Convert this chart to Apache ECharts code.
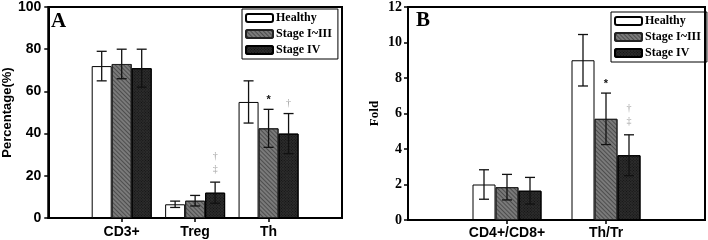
<!DOCTYPE html>
<html><head><meta charset="utf-8">
<script src="https://cdn.jsdelivr.net/npm/echarts@6/dist/echarts.min.js"></script>
<style>html,body{margin:0;padding:0;background:#fff}#c{width:708px;height:240px}</style>
</head><body><div id="c"></div>
<script>
// ---- Data ----
const seriesNames = ['Healthy', 'Stage I~III', 'Stage IV'];
// Panel A
const catsA = ['CD3+', 'Treg', 'Th'];
const healthyA = [72, 6.5, 55];
const healthyA_sd = [7, 1.5, 10];
const stage13A = [73, 8.2, 42.5];
const stage13A_sd = [7, 2.5, 9];
const stage4A = [71, 12, 40];
const stage4A_sd = [9, 5, 9.5];
const annotA = [['', '', ''], ['', '', '*'], ['', '†‡', '†']];
const yTicksA = [0, 20, 40, 60, 80, 100];
// Panel B
const catsB = ['CD4+/CD8+', 'Th/Tr'];
const healthyB = [2.0, 9.0];
const healthyB_sd = [0.83, 1.45];
const stage13B = [1.85, 5.7];
const stage13B_sd = [0.72, 1.45];
const stage4B = [1.65, 3.65];
const stage4B_sd = [0.75, 1.15];
const annotB = [['', ''], ['', '*'], ['', '†‡']];
const yTicksB = [0, 2, 4, 6, 8, 10, 12];

const styles = [
  { color: '#ffffff', borderColor: '#000', borderWidth: 1 },
  { color: '#7a7a7a', borderColor: '#222', borderWidth: 1,
    decal: { symbol: 'rect', symbolSize: 1, dashArrayX: [1, 0], dashArrayY: [1, 2], rotation: Math.PI / 4, color: 'rgba(40,40,40,0.55)' } },
  { color: '#2c2c2c', borderColor: '#000', borderWidth: 1,
    decal: { symbol: 'rect', symbolSize: 1, dashArrayX: [1, 1], dashArrayY: [1, 1], rotation: Math.PI / 4, color: 'rgba(0,0,0,0.6)' } }
];

const chart = echarts.init(document.getElementById('c'));

function padCats(c) { return [''].concat(c).concat(['']); }

function barSeries(name, idx, vals, axisIdx, barW) {
  return {
    name: name, type: 'bar', xAxisIndex: axisIdx, yAxisIndex: axisIdx,
    barWidth: barW, barGap: '0%', itemStyle: styles[idx],
    data: vals.map((v, i) => [i + 1, v]), z: 2
  };
}

function errSeries(idx, vals, sds, ann, axisIdx, barW) {
  const offset = (idx - 1) * barW;
  return {
    type: 'custom', xAxisIndex: axisIdx, yAxisIndex: axisIdx, z: 5, silent: true,
    data: vals.map((v, i) => [i + 1, v, sds[i]]),
    renderItem: function (params, api) {
      const x0 = api.value(0), m = api.value(1), sd = api.value(2);
      const c = api.coord([x0, m]);
      const x = c[0] + offset;
      const yt = api.coord([x0, m + sd])[1];
      const yb = api.coord([x0, m - sd])[1];
      const cw = 5;
      const st = { stroke: '#111', lineWidth: 1.3 };
      const ch = [
        { type: 'line', shape: { x1: x, y1: yt, x2: x, y2: yb }, style: st },
        { type: 'line', shape: { x1: x - cw, y1: yt, x2: x + cw, y2: yt }, style: st },
        { type: 'line', shape: { x1: x - cw, y1: yb, x2: x + cw, y2: yb }, style: st }
      ];
      const a = ann[params.dataIndex];
      if (a === '*') {
        ch.push({ type: 'text', style: { text: '*', x: x, y: yt - 4, align: 'center', verticalAlign: 'bottom', fill: '#111', font: 'bold 11px "Liberation Sans"' } });
      } else if (a === '†') {
        ch.push({ type: 'text', style: { text: '†', x: x, y: yt - 5, align: 'center', verticalAlign: 'bottom', fill: '#a0a0a0', font: '10px "Liberation Serif"' } });
      } else if (a === '†‡') {
        ch.push({ type: 'text', style: { text: '‡', x: x, y: yt - 8, align: 'center', verticalAlign: 'bottom', fill: '#a0a0a0', font: '10px "Liberation Serif"' } });
        ch.push({ type: 'text', style: { text: '†', x: x, y: yt - 21, align: 'center', verticalAlign: 'bottom', fill: '#a0a0a0', font: '10px "Liberation Serif"' } });
      }
      return { type: 'group', children: ch };
    }
  };
}

const axisLine = { lineStyle: { color: '#000', width: 2 } };
const tickStyle = { show: true, inside: false, length: 4, lineStyle: { color: '#000', width: 1.5 } };

const option = {
  animation: false,
  backgroundColor: '#fff',
  title: [
    { text: 'A', left: 51, top: 11, textStyle: { fontFamily: 'Liberation Serif', fontWeight: 'bold', fontSize: 21, color: '#000' }, padding: 0 },
    { text: 'B', left: 416, top: 10, textStyle: { fontFamily: 'Liberation Serif', fontWeight: 'bold', fontSize: 21, color: '#000' }, padding: 0 }
  ],
  legend: [
    { data: seriesNames, orient: 'vertical', left: 242, top: 9, width: 91, itemWidth: 27, itemHeight: 8, itemGap: 4,
      borderColor: '#000', borderWidth: 1, padding: [3, 6, 3, 3], selectedMode: false,
      textStyle: { fontFamily: 'Liberation Serif', fontWeight: 'bold', fontSize: 12, color: '#000', padding: [0, 0, 0, -2] } },
    { data: seriesNames, orient: 'vertical', left: 611, top: 12, itemWidth: 27, itemHeight: 8, itemGap: 4,
      borderColor: '#000', borderWidth: 1, padding: [3, 6, 3, 3], selectedMode: false,
      textStyle: { fontFamily: 'Liberation Serif', fontWeight: 'bold', fontSize: 12, color: '#000', padding: [0, 0, 0, -2] } }
  ],
  grid: [
    { left: 44, top: 5, width: 298, height: 213, show: true, borderColor: '#000', borderWidth: 2, backgroundColor: 'transparent' },
    { left: 408, top: 5, width: 297, height: 215, show: true, borderColor: '#000', borderWidth: 2, backgroundColor: 'transparent' }
  ],
  xAxis: [
    { type: 'category', gridIndex: 0, data: padCats(catsA), boundaryGap: false, axisLine: axisLine,
      axisTick: Object.assign({}, tickStyle, { interval: (i) => i > 0 && i < catsA.length + 1 }),
      axisLabel: { interval: 0, margin: 7, fontFamily: 'Liberation Sans', fontWeight: 'bold', fontSize: 14, color: '#000' } },
    { type: 'category', gridIndex: 1, data: padCats(catsB), boundaryGap: false, axisLine: axisLine,
      axisTick: Object.assign({}, tickStyle, { interval: (i) => i > 0 && i < catsB.length + 1 }),
      axisLabel: { interval: 0, margin: 6, fontFamily: 'Liberation Sans', fontWeight: 'bold', fontSize: 14, color: '#000' } }
  ],
  yAxis: [
    { type: 'value', gridIndex: 0, min: yTicksA[0], max: yTicksA[yTicksA.length - 1], interval: yTicksA[1] - yTicksA[0],
      axisLine: Object.assign({ show: true }, axisLine), axisTick: tickStyle, splitLine: { show: false },
      axisLabel: { margin: 7, fontFamily: 'Liberation Sans', fontWeight: 'bold', fontSize: 14, color: '#000' },
      name: 'Percentage(%)', nameLocation: 'middle', nameGap: 31,
      nameTextStyle: { fontFamily: 'Liberation Sans', fontWeight: 'bold', fontSize: 13, color: '#000' } },
    { type: 'value', gridIndex: 1, min: yTicksB[0], max: yTicksB[yTicksB.length - 1], interval: yTicksB[1] - yTicksB[0],
      axisLine: Object.assign({ show: true }, axisLine), axisTick: tickStyle, splitLine: { show: false },
      axisLabel: { margin: 6, fontFamily: 'Liberation Serif', fontWeight: 'bold', fontSize: 14, color: '#000' },
      name: 'Fold', nameLocation: 'middle', nameGap: 27,
      nameTextStyle: { fontFamily: 'Liberation Serif', fontWeight: 'bold', fontSize: 13, color: '#000' } }
  ],
  series: [
    barSeries(seriesNames[0], 0, healthyA, 0, 20),
    barSeries(seriesNames[1], 1, stage13A, 0, 20),
    barSeries(seriesNames[2], 2, stage4A, 0, 20),
    errSeries(0, healthyA, healthyA_sd, annotA[0], 0, 20),
    errSeries(1, stage13A, stage13A_sd, annotA[1], 0, 20),
    errSeries(2, stage4A, stage4A_sd, annotA[2], 0, 20),
    barSeries(seriesNames[0], 0, healthyB, 1, 23),
    barSeries(seriesNames[1], 1, stage13B, 1, 23),
    barSeries(seriesNames[2], 2, stage4B, 1, 23),
    errSeries(0, healthyB, healthyB_sd, annotB[0], 1, 23),
    errSeries(1, stage13B, stage13B_sd, annotB[1], 1, 23),
    errSeries(2, stage4B, stage4B_sd, annotB[2], 1, 23)
  ]
};
chart.setOption(option);
</script></body></html>
